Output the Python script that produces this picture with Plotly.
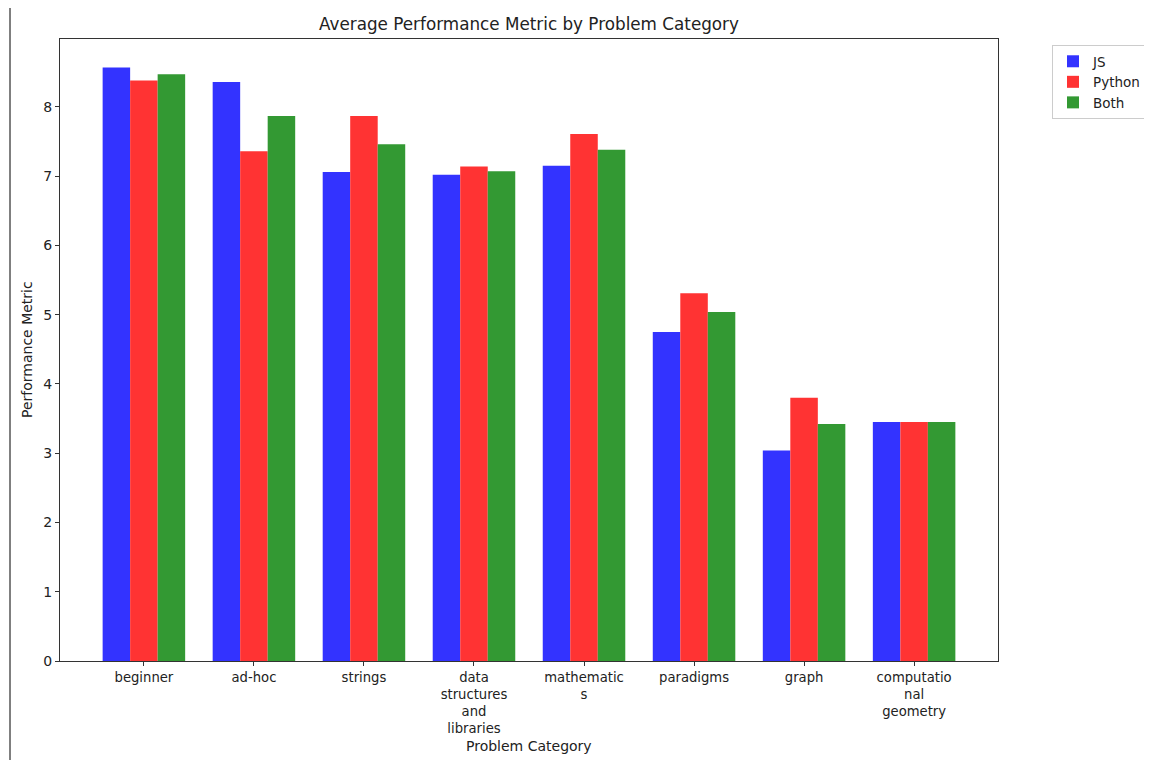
import plotly.graph_objects as go

categories = ["beginner", "ad-hoc", "strings", "data<br>structures<br>and<br>libraries",
              "mathematic<br>s", "paradigms", "graph", "computatio<br>nal<br>geometry"]
js_values = [8.57, 8.36, 7.06, 7.02, 7.15, 4.75, 3.04, 3.45]
python_values = [8.38, 7.36, 7.87, 7.14, 7.61, 5.31, 3.80, 3.45]
both_values = [8.47, 7.87, 7.46, 7.07, 7.38, 5.04, 3.42, 3.45]
y_ticks = [0, 1, 2, 3, 4, 5, 6, 7, 8]

series = [("JS", js_values, "#3333ff"),
          ("Python", python_values, "#ff3333"),
          ("Both", both_values, "#339933")]

# the page places the figure 8px in from the top-left corner
OFF = 8
W, H = 1152 - OFF, 760 - OFF
L, T = 60 - OFF, 39 - OFF
R, B = W - (998 - OFF), H - (661 - OFF)
PW, PH = W - L - R, H - T - B

x_idx = list(range(len(categories)))
fig = go.Figure()
for name, vals, color in series:
    fig.add_trace(go.Bar(x=x_idx, y=vals, name=name, marker_color=color,
                         marker_line_width=0))

font_family = "DejaVu Sans"
fig.update_layout(
    width=W, height=H,
    barmode="group", bargap=0.25, bargroupgap=0,
    plot_bgcolor="white", paper_bgcolor="white",
    font=dict(family=font_family, size=14, color="#222"),
    margin=dict(l=L, r=R, t=T, b=B, autoexpand=False),
    title=dict(text="Average Performance Metric by Problem Category",
               x=(L + PW / 2) / W, xanchor="center", y=1 - (24 - OFF) / H, yanchor="middle",
               font=dict(size=16.8, color="#222")),
    legend=dict(xref="container", yref="container",
                x=(1052 - OFF) / W, y=1 - (45 - OFF) / H, xanchor="left", yanchor="top",
                bordercolor="#cccccc", borderwidth=1, bgcolor="white",
                font=dict(size=13.5), tracegroupgap=0),
    shapes=[dict(type="line", xref="paper", yref="paper",
                 x0=(10 - 60) / PW, x1=(10 - 60) / PW, y0=-B / PH, y1=1 + T / PH,
                 line=dict(color="black", width=1))],
    annotations=[
        dict(text="Problem Category", xref="paper", yref="paper",
             x=(529 - 60) / PW, y=-(746 - 661) / PH, xanchor="center", yanchor="middle",
             showarrow=False, font=dict(size=14)),
        dict(text="Performance Metric", xref="paper", yref="paper",
             x=-(60 - 27) / PW, y=(661 - 350) / PH, xanchor="center", yanchor="middle",
             textangle=-90, showarrow=False, font=dict(size=14)),
    ],
)
fig.update_xaxes(
    tickmode="array", tickvals=x_idx, ticktext=categories,
    range=[-0.7625, 7.7625], automargin=False,
    tickfont=dict(size=13.2),
    showline=True, mirror=True, linecolor="#333", linewidth=1,
    ticks="outside", ticklen=4, tickcolor="#333",
    showgrid=False, zeroline=False,
)
fig.update_yaxes(
    tickmode="array", tickvals=y_ticks, ticktext=[str(t) for t in y_ticks],
    range=[0, 8.98], automargin=False,
    showline=True, mirror=True, linecolor="#333", linewidth=1,
    ticks="outside", ticklen=4, tickcolor="#333",
    showgrid=False, zeroline=False,
)

fig.write_html("out.html")
